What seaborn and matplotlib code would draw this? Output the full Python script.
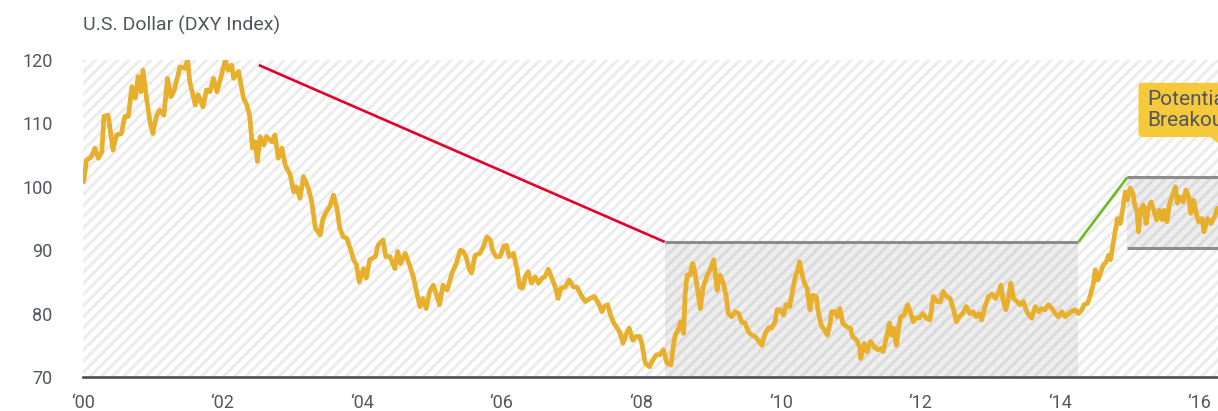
import matplotlib
matplotlib.use("Agg")
import matplotlib.pyplot as plt
import seaborn as sns
import pandas as pd
from matplotlib.patches import Rectangle, FancyBboxPatch, Polygon

# ---------------- data ----------------
years = [
    2000.01, 2000.05, 2000.12, 2000.17, 2000.22, 2000.27, 2000.30, 2000.36, 2000.43, 2000.48,
    2000.55, 2000.60, 2000.65, 2000.70, 2000.75, 2000.79, 2000.83, 2000.86, 2000.91, 2000.96,
    2001.00, 2001.05, 2001.10, 2001.16, 2001.21, 2001.26, 2001.30, 2001.35, 2001.39, 2001.46,
    2001.50, 2001.53, 2001.61, 2001.65, 2001.72, 2001.77, 2001.82, 2001.87, 2001.92, 2001.96,
    2002.04, 2002.08, 2002.13, 2002.16, 2002.23, 2002.30, 2002.35, 2002.39, 2002.43, 2002.47,
    2002.50, 2002.54, 2002.59, 2002.63, 2002.71, 2002.75, 2002.80, 2002.85, 2002.90, 2002.97,
    2003.02, 2003.06, 2003.11, 2003.16, 2003.23, 2003.28, 2003.33, 2003.40, 2003.44, 2003.49,
    2003.54, 2003.59, 2003.64, 2003.68, 2003.73, 2003.78, 2003.83, 2003.88, 2003.92, 2003.96,
    2004.02, 2004.06, 2004.11, 2004.19, 2004.23, 2004.30, 2004.34, 2004.40, 2004.47, 2004.51,
    2004.55, 2004.62, 2004.68, 2004.74, 2004.78, 2004.83, 2004.87, 2004.92, 2004.97, 2005.02,
    2005.07, 2005.11, 2005.16, 2005.22, 2005.29, 2005.35, 2005.41, 2005.45, 2005.49, 2005.54,
    2005.57, 2005.62, 2005.69, 2005.74, 2005.79, 2005.84, 2005.87, 2005.92, 2005.98, 2006.03,
    2006.07, 2006.11, 2006.17, 2006.22, 2006.26, 2006.30, 2006.34, 2006.38, 2006.43, 2006.48,
    2006.53, 2006.58, 2006.62, 2006.67, 2006.72, 2006.77, 2006.81, 2006.85, 2006.91, 2006.97,
    2007.03, 2007.08, 2007.14, 2007.20, 2007.27, 2007.33, 2007.39, 2007.44, 2007.47, 2007.52,
    2007.57, 2007.61, 2007.66, 2007.70, 2007.74, 2007.78, 2007.83, 2007.88, 2007.93, 2007.98,
    2008.01, 2008.06, 2008.12, 2008.17, 2008.22, 2008.27, 2008.32, 2008.37, 2008.43, 2008.46,
    2008.49, 2008.53, 2008.57, 2008.61, 2008.63, 2008.66, 2008.70, 2008.74, 2008.77, 2008.81,
    2008.85, 2008.89, 2008.94, 2008.99, 2009.04, 2009.09, 2009.13, 2009.18, 2009.22, 2009.25,
    2009.30, 2009.35, 2009.40, 2009.44, 2009.49, 2009.54, 2009.59, 2009.63, 2009.68, 2009.73,
    2009.78, 2009.83, 2009.87, 2009.92, 2009.95, 2009.99, 2010.04, 2010.08, 2010.13, 2010.17,
    2010.21, 2010.24, 2010.27, 2010.30, 2010.34, 2010.38, 2010.42, 2010.46, 2010.51, 2010.54,
    2010.58, 2010.63, 2010.67, 2010.71, 2010.73, 2010.78, 2010.81, 2010.85, 2010.89, 2010.95,
    2011.00, 2011.03, 2011.09, 2011.13, 2011.15, 2011.20, 2011.24, 2011.29, 2011.34, 2011.39,
    2011.44, 2011.47, 2011.52, 2011.56, 2011.59, 2011.62, 2011.66, 2011.69, 2011.72, 2011.77,
    2011.82, 2011.86, 2011.90, 2011.94, 2011.99, 2012.04, 2012.09, 2012.14, 2012.19, 2012.24,
    2012.29, 2012.33, 2012.38, 2012.43, 2012.48, 2012.52, 2012.56, 2012.61, 2012.66, 2012.71,
    2012.76, 2012.80, 2012.85, 2012.88, 2012.93, 2012.98, 2013.03, 2013.08, 2013.12, 2013.16,
    2013.19, 2013.23, 2013.27, 2013.30, 2013.34, 2013.39, 2013.43, 2013.48, 2013.53, 2013.58,
    2013.60, 2013.65, 2013.70, 2013.74, 2013.79, 2013.84, 2013.89, 2013.94, 2013.98, 2014.03,
    2014.08, 2014.13, 2014.17, 2014.22, 2014.27, 2014.32, 2014.35, 2014.40, 2014.44, 2014.48,
    2014.51, 2014.55, 2014.59, 2014.63, 2014.67, 2014.70, 2014.73, 2014.76, 2014.80, 2014.83,
    2014.87, 2014.91, 2014.94, 2014.97, 2015.01, 2015.05, 2015.08, 2015.11, 2015.13, 2015.16,
    2015.20, 2015.24, 2015.27, 2015.31, 2015.35, 2015.39, 2015.43, 2015.47, 2015.50, 2015.54,
    2015.57, 2015.61, 2015.66, 2015.69, 2015.73, 2015.77, 2015.81, 2015.85, 2015.88, 2015.92,
    2015.96, 2015.99, 2016.04, 2016.07, 2016.12, 2016.17, 2016.22, 2016.26,
]
dxy = [
    100.8, 104.2, 104.7, 106.1, 104.5, 105.5, 111.1, 111.3, 105.8, 108.2,
    108.4, 111.1, 111.1, 115.8, 114.0, 117.4, 115.0, 118.4, 114.0, 110.3,
    108.4, 111.1, 112.1, 111.3, 117.1, 114.2, 115.0, 117.1, 118.9, 118.7,
    120.0, 116.6, 112.9, 114.5, 112.6, 115.3, 115.0, 117.1, 115.0, 116.6,
    120.0, 118.4, 119.2, 117.1, 118.2, 114.0, 112.9, 111.1, 106.1, 107.1,
    104.0, 107.9, 106.6, 107.9, 107.1, 108.2, 104.5, 106.1, 103.4, 101.9,
    99.2, 100.0, 98.2, 101.6, 99.8, 97.6, 93.5, 92.4, 95.0, 96.1,
    96.9, 98.7, 96.6, 93.5, 92.1, 91.9, 90.3, 88.5, 87.7, 85.0,
    87.1, 85.6, 88.5, 89.0, 90.8, 91.6, 89.0, 89.0, 87.1, 89.8,
    87.9, 89.5, 87.7, 85.6, 83.5, 81.1, 82.4, 80.8, 83.5, 84.5,
    82.9, 81.4, 84.5, 83.7, 86.4, 87.9, 90.0, 89.8, 89.0, 86.9,
    86.4, 89.2, 89.5, 90.6, 92.1, 91.6, 90.0, 89.0, 89.0, 90.6,
    90.8, 89.0, 89.5, 87.1, 84.2, 84.0, 85.8, 86.6, 84.8, 85.8,
    84.8, 85.6, 85.8, 87.0, 85.6, 84.2, 82.4, 84.0, 84.2, 85.3,
    84.2, 84.2, 82.9, 81.9, 82.4, 82.7, 81.6, 80.3, 81.1, 81.4,
    79.5, 78.5, 77.7, 76.9, 75.3, 76.6, 77.7, 75.8, 76.4, 76.4,
    75.3, 72.2, 71.6, 72.7, 73.5, 73.5, 74.3, 72.2, 71.9, 74.8,
    76.6, 77.4, 78.7, 76.9, 82.9, 86.1, 86.1, 87.9, 86.6, 83.7,
    80.8, 84.2, 85.8, 86.9, 88.5, 83.7, 86.1, 84.8, 82.7, 80.0,
    79.5, 80.3, 80.0, 78.7, 78.5, 77.1, 76.6, 76.4, 75.8, 75.0,
    76.9, 77.8, 77.7, 78.7, 80.6, 80.6, 79.8, 81.4, 81.1, 83.5,
    85.8, 86.6, 88.2, 86.6, 84.8, 84.0, 80.6, 82.9, 82.7, 80.3,
    78.2, 77.4, 76.6, 78.5, 80.3, 80.3, 79.5, 80.8, 78.5, 77.9,
    77.7, 76.4, 75.8, 74.8, 72.9, 75.3, 74.0, 75.6, 74.8, 74.3,
    74.5, 74.0, 76.4, 78.5, 76.6, 77.7, 75.0, 77.7, 79.5, 79.8,
    81.4, 80.3, 78.7, 79.3, 79.3, 80.0, 79.3, 79.0, 82.7, 81.9,
    81.9, 83.5, 82.7, 82.4, 80.6, 78.7, 79.5, 80.0, 81.1, 80.0,
    80.3, 79.5, 80.0, 79.0, 81.1, 82.7, 83.1, 82.4, 83.2, 84.5,
    82.1, 80.6, 82.7, 84.8, 82.4, 81.9, 81.4, 81.9, 80.3, 79.5,
    79.3, 81.1, 80.3, 80.8, 80.6, 81.4, 80.8, 80.0, 79.5, 80.3,
    79.5, 80.0, 80.3, 80.6, 80.0, 80.6, 81.4, 81.6, 82.9, 84.5,
    86.9, 85.3, 86.6, 87.7, 88.2, 89.2, 88.5, 90.6, 93.2, 95.0,
    94.2, 96.9, 99.2, 97.9, 99.8, 99.0, 96.9, 96.1, 92.9, 96.3,
    97.1, 94.2, 96.6, 97.6, 96.3, 94.8, 96.3, 94.8, 96.3, 94.5,
    97.1, 98.4, 100.0, 97.4, 98.4, 97.6, 99.5, 98.4, 95.8, 97.9,
    95.8, 94.5, 95.0, 92.9, 95.0, 94.2, 95.3, 96.6,
]

tick_years = [2000, 2002, 2004, 2006, 2008, 2010, 2012, 2014, 2016]
tick_labels = ["\u201800", "\u201802", "\u201804", "\u201806", "\u201808",
               "\u201810", "\u201812", "\u201814", "\u201816"]
y_ticks = [70, 80, 90, 100, 110, 120]

# annotation geometry (range boxes and trend lines)
downtrend_x = [2002.52, 2008.34]
downtrend_y = [119.2, 91.3]
range1_x = [2008.34, 2014.27]
range1_top = 91.3
uptrend_x = [2014.27, 2014.97]
uptrend_y = [91.3, 101.5]
range2_x = [2014.97, 2016.4]
range2_top = 101.5
range2_bottom = 90.35
callout_text = "Potential\nBreakout"

title = "U.S. Dollar (DXY Index)"

# ---------------- style ----------------
sns.set_theme(style="white")
plt.rcParams["font.family"] = ["Roboto", "DejaVu Sans"]
plt.rcParams["hatch.linewidth"] = 2.2
plt.rcParams["hatch.color"] = "#ececec"

TXT = "#53575d"
GOLD = "#e8af2c"

fig = plt.figure(figsize=(12.18, 4.11), dpi=100)
ax = fig.add_axes([83 / 1218, 1 - 377 / 411, 1 - 83 / 1218, (377 - 60) / 411])

xmin, xmax = 2000, 2016.27
ax.set_xlim(xmin, xmax)
ax.set_ylim(70, 120)

# hatched background
ax.add_patch(Rectangle((0, 0), 1, 1, transform=ax.transAxes, facecolor="white",
                       edgecolor="#ececec", hatch="///", lw=0, zorder=0))

# range boxes
ax.add_patch(Rectangle((range1_x[0], 70), range1_x[1] - range1_x[0], range1_top - 70,
                       facecolor="#000000", alpha=0.07, lw=0, zorder=1))
ax.add_patch(Rectangle((range2_x[0], range2_bottom), range2_x[1] - range2_x[0],
                       range2_top - range2_bottom,
                       facecolor="#000000", alpha=0.07, lw=0, zorder=1))

df = pd.DataFrame({"year": years, "dxy": dxy})
sns.lineplot(data=df, x="year", y="dxy", ax=ax, color=GOLD, lw=3.4, zorder=4,
             sort=False, estimator=None)

# trend / range lines
ax.plot(downtrend_x, downtrend_y, color="#e4002b", lw=1.9, zorder=3, solid_capstyle="butt")
ax.plot(range1_x, [range1_top, range1_top], color="#8c8c8c", lw=2.2, zorder=3,
        solid_capstyle="butt")
ax.plot(uptrend_x, uptrend_y, color="#6cbb1e", lw=1.9, zorder=3, solid_capstyle="butt")
ax.plot(range2_x, [range2_top, range2_top], color="#8c8c8c", lw=2.2, zorder=3,
        solid_capstyle="butt")
ax.plot(range2_x, [range2_bottom, range2_bottom], color="#8c8c8c", lw=2.2, zorder=3,
        solid_capstyle="butt")

# callout box
aspect = 69.75 / 6.34
ax.add_patch(FancyBboxPatch((2015.13, 107.85), 1.5, 8.55,
                            boxstyle="round,pad=0,rounding_size=0.06",
                            mutation_aspect=aspect, facecolor="#f6c93c",
                            edgecolor="none", zorder=5, clip_on=False))
ax.add_patch(Polygon([(2016.15, 107.9), (2016.30, 107.9), (2016.27, 106.9)],
                     closed=True, facecolor="#f6c93c", edgecolor="none", zorder=5,
                     clip_on=False))
ax.text(2015.25, 112.1, callout_text, ha="left", va="center", fontsize=15,
        color=TXT, linespacing=1.1, zorder=6)

# axes cosmetics
for s in ["top", "right", "left"]:
    ax.spines[s].set_visible(False)
ax.spines["bottom"].set_color("#4b4f55")
ax.spines["bottom"].set_linewidth(1.9)
ax.spines["bottom"].set_zorder(7)

ax.set_xticks(tick_years)
ax.set_xticklabels(tick_labels)
ax.set_yticks(y_ticks)
ax.set_yticklabels([str(v) for v in y_ticks])
ax.tick_params(axis="both", length=0, labelsize=13, labelcolor=TXT)
ax.tick_params(axis="y", pad=22)
ax.tick_params(axis="x", pad=12)
for lbl in ax.get_yticklabels():
    lbl.set_horizontalalignment("right")
ax.set_xlabel("")
ax.set_ylabel("")
ax.grid(False)

fig.text(83 / 1218, 1 - 25 / 411, title, ha="left", va="center", fontsize=14, color=TXT)

fig.savefig("out.png", dpi=100)
